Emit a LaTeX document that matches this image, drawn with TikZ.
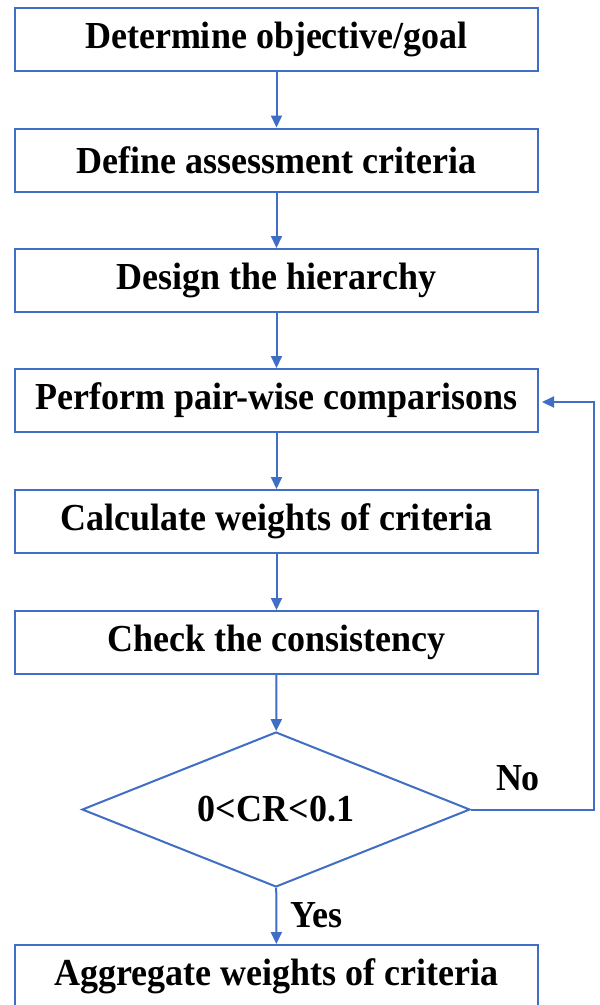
\documentclass[tikz,border=0pt]{standalone}
\usepackage{fontspec}
\setmainfont{Liberation Serif}
\usetikzlibrary{shapes.geometric,arrows.meta}
\definecolor{lineblue}{RGB}{64,110,196}
\newcommand{\tallbold}[1]{\scalebox{1}[1.06]{#1}}
\begin{document}
\begin{tikzpicture}[x=1pt,y=-1pt,
  stepbox/.style={draw=lineblue,line width=2pt,minimum width=523pt,minimum height=63pt,inner sep=0pt,font=\fontsize{36}{40}\selectfont\bfseries,text=black},
  decision/.style={diamond,draw=lineblue,line width=2pt,minimum width=388pt,minimum height=155pt,inner sep=0pt,aspect=2.5,font=\fontsize{36}{40}\selectfont\bfseries,text=black},
  lbl/.style={font=\fontsize{36}{40}\selectfont\bfseries,text=black,inner sep=0pt},
  conn/.style={draw=lineblue,line width=2pt,-{Triangle[length=12pt,width=11pt]}}
]
\clip (0,0) rectangle (600,1005);
\fill[white] (0,0) rectangle (600,1005);
\node[stepbox] (b1) at (276.5,39.5) {\tallbold{Determine objective/goal}};
\node[stepbox] (b2) at (276.5,160) {\tallbold{Define assessment criteria}};
\node[stepbox] (b3) at (276.5,280.5) {\tallbold{Design the hierarchy}};
\node[stepbox] (b4) at (276.5,400.5) {\tallbold{Perform pair-wise comparisons}};
\node[stepbox] (b5) at (276.5,521.5) {\tallbold{Calculate weights of criteria}};
\node[stepbox] (b6) at (276.5,642.5) {\tallbold{Check the consistency}};
\node[decision] (d) at (276,809.5) {\tallbold{0<CR<0.1}};
\node[stepbox] (b7) at (276.5,976.5) {\tallbold{Aggregate weights of criteria}};
\coordinate (c1) at (594,809.5);
\coordinate (c2) at (594,402);
\draw[conn] (b1) -- (b2);
\draw[conn] (b2) -- (b3);
\draw[conn] (b3) -- (b4);
\draw[conn] (b4) -- (b5);
\draw[conn] (b5) -- (b6);
\draw[conn] (b6) -- (d);
\draw[conn] (d) -- (b7);
\draw[conn,shorten >=3pt] (d.east) -- (c1) -- (c2) -- (c2 -| b4.east);
\node[lbl] (no) at (518,778) {\tallbold{No}};
\node[lbl] (yes) at (316,915) {\tallbold{Yes}};
\end{tikzpicture}
\end{document}
